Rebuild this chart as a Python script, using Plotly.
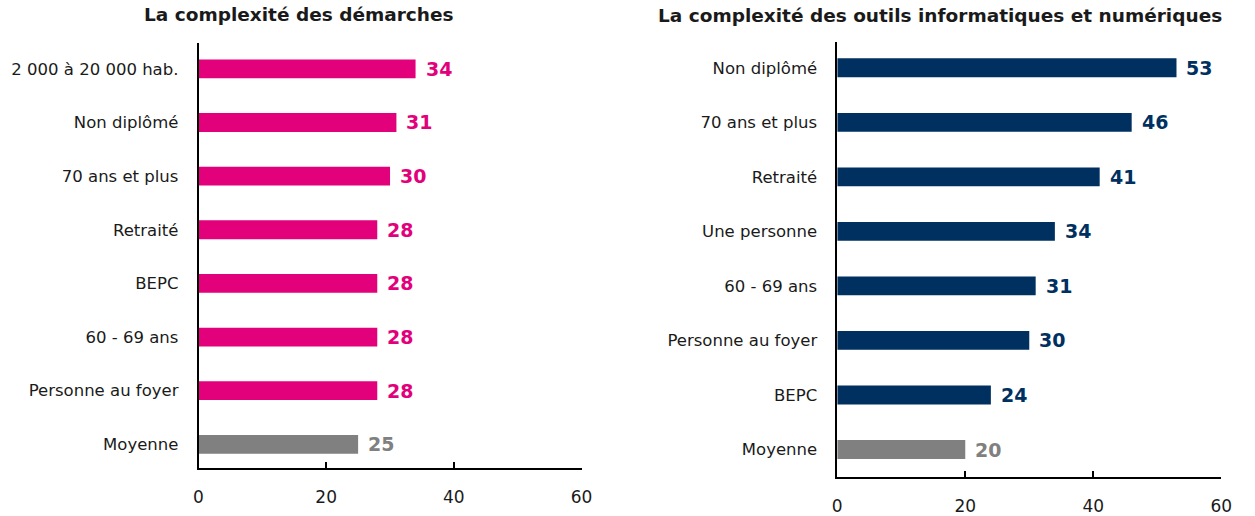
import plotly.graph_objects as go

# Left panel: complexity of procedures
left_title = "La complexité des démarches"
left_categories = ["2 000 à 20 000 hab.", "Non diplômé", "70 ans et plus", "Retraité",
                   "BEPC", "60 - 69 ans", "Personne au foyer", "Moyenne"]
left_values = [34, 31, 30, 28, 28, 28, 28, 25]

# Right panel: complexity of computer and digital tools
right_title = "La complexité des outils informatiques et numériques"
right_categories = ["Non diplômé", "70 ans et plus", "Retraité", "Une personne",
                    "60 - 69 ans", "Personne au foyer", "BEPC", "Moyenne"]
right_values = [53, 46, 41, 34, 31, 30, 24, 20]

x_ticks = [0, 20, 40, 60]

PINK = "#E3007B"
NAVY = "#00305F"
GREY = "#808080"
TEXT = "#1a1a1a"
FONT = "DejaVu Sans"

W, H = 1255, 516


def colors_for(cats, main):
    return [GREY if c == "Moyenne" else main for c in cats]


fig = go.Figure()

fig.add_trace(go.Bar(
    x=left_values, y=left_categories, orientation="h",
    marker=dict(color=colors_for(left_categories, PINK), line=dict(width=0)),
    width=0.35, xaxis="x", yaxis="y", hoverinfo="x+y",
))
fig.add_trace(go.Bar(
    x=right_values, y=right_categories, orientation="h",
    marker=dict(color=colors_for(right_categories, NAVY), line=dict(width=0)),
    width=0.345, xaxis="x2", yaxis="y2", hoverinfo="x+y",
))

annotations = []
for cats, vals, main, xa, ya in [(left_categories, left_values, PINK, "x", "y"),
                                 (right_categories, right_values, NAVY, "x2", "y2")]:
    for c, v, col in zip(cats, vals, colors_for(cats, main)):
        annotations.append(dict(
            x=v, y=c, xref=xa, yref=ya, text=f"<b>{v}</b>", showarrow=False,
            xanchor="left", yanchor="middle", xshift=8,
            font=dict(family=FONT, size=19, color=col),
        ))

annotations.append(dict(x=298 / W, y=1 - 15 / H, xref="paper", yref="paper",
                        text=f"<b>{left_title}</b>", showarrow=False,
                        xanchor="center", yanchor="middle",
                        font=dict(family=FONT, size=18.5, color=TEXT)))
annotations.append(dict(x=947 / W, y=1 - 16 / H, xref="paper", yref="paper",
                        text=f"<b>{right_title}</b>", showarrow=False,
                        xanchor="center", yanchor="middle",
                        font=dict(family=FONT, size=18.5, color=TEXT)))

xaxis_common = dict(
    range=[0, 60], tickvals=x_ticks, ticks="inside", ticklen=6, tickwidth=2,
    tickcolor="black", showline=True, linecolor="black", linewidth=2,
    showgrid=False, zeroline=False, ticklabelstandoff=12,
    tickfont=dict(family=FONT, size=17, color=TEXT),
)
yaxis_common = dict(
    autorange=False, showline=True, linecolor="black", linewidth=1.5,
    showgrid=False, zeroline=False, ticks="", ticklabelstandoff=15,
    tickfont=dict(family=FONT, size=16.5, color=TEXT),
)

fig.update_layout(
    width=W, height=H,
    margin=dict(l=0, r=0, t=0, b=0),
    paper_bgcolor="white", plot_bgcolor="white",
    showlegend=False,
    font=dict(family=FONT),
    xaxis=dict(domain=[196 / W, 584 / W], anchor="y", **xaxis_common),
    yaxis=dict(domain=[1 - 473 / H, 1 - 43 / H], anchor="x",
               categoryorder="array", categoryarray=left_categories,
               range=[7.45, -0.49], **yaxis_common),
    xaxis2=dict(domain=[843 / W, 1232 / W], anchor="y2", **xaxis_common),
    yaxis2=dict(domain=[1 - 482 / H, 1 - 42 / H], anchor="x2",
                categoryorder="array", categoryarray=right_categories,
                range=[7.51, -0.48], **yaxis_common),
    annotations=annotations,
)

fig.write_html("out.html")
